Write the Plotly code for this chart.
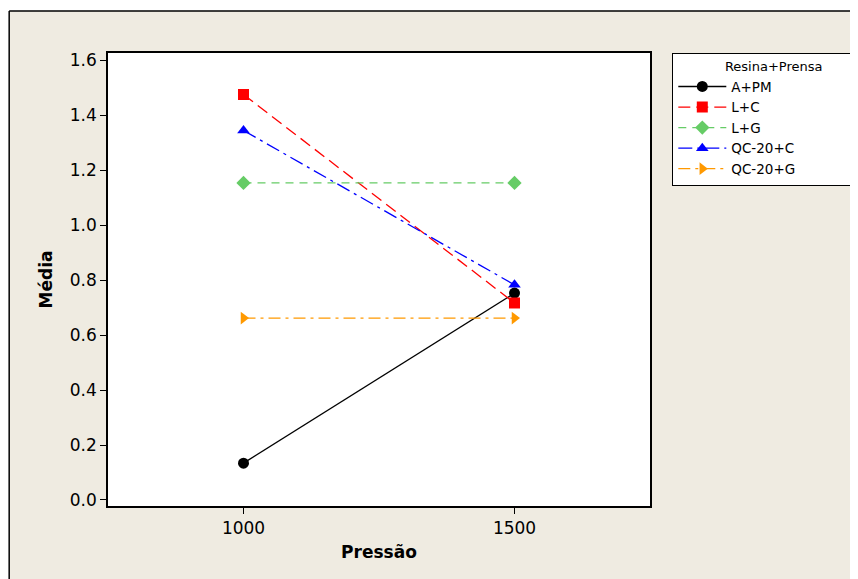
import plotly.graph_objects as go

pressao = [1000, 1500]
series_names = ["A+PM", "L+C", "L+G", "QC-20+C", "QC-20+G"]
a_pm = [0.134, 0.753]
l_c = [1.476, 0.717]
l_g = [1.154, 1.154]
qc20_c = [1.345, 0.783]
qc20_g = [0.662, 0.662]
y_ticks = [0.0, 0.2, 0.4, 0.6, 0.8, 1.0, 1.2, 1.4, 1.6]
x_ticks = [1000, 1500]

values = [a_pm, l_c, l_g, qc20_c, qc20_g]
colors = ["#000000", "#FF0000", "#66CC66", "#0000FF", "#FF9900"]
dashes = ["solid", "12px,6px", "8px,6px", "14px,5px,3px,5px", "12px,5px,3px,5px"]
symbols = ["circle", "square", "diamond", "triangle-up", "triangle-right"]

FONT = "DejaVu Sans"
fig = go.Figure()
for name, vals, c, d, s in zip(series_names, values, colors, dashes, symbols):
    fig.add_trace(go.Scatter(
        x=pressao, y=vals, name=name, mode="lines+markers",
        line=dict(color=c, width=1.3, dash=d),
        marker=dict(symbol=s, size=11, color=c),
    ))

OFF = 8  # browser body margin
W, H = 858, 579
L, R, T, B = 108 - OFF, 858 - 651 + OFF, 53 - OFF, 579 - 506 + OFF
pw, ph = W - L - R, H - T - B
def px(x):
    return (x - OFF - L) / pw
def py(y):
    return (H - B - (y - OFF)) / ph

shapes = [
    dict(type="rect", xref="paper", yref="paper", x0=px(9), x1=px(900), y0=py(620), y1=py(11),
         fillcolor="#EFEBE1", line=dict(width=0), layer="below"),
    dict(type="line", xref="paper", yref="paper", x0=px(9), x1=px(900), y0=py(11), y1=py(11),
         line=dict(color="black", width=1.5), layer="below"),
    dict(type="line", xref="paper", yref="paper", x0=px(9), x1=px(9), y0=py(11), y1=py(620),
         line=dict(color="black", width=1.5), layer="below"),
    dict(type="rect", xref="paper", yref="paper", x0=0, x1=1, y0=0, y1=1,
         fillcolor="white", line=dict(width=0), layer="below"),
]

NB = "&nbsp;"
fig.update_layout(
    width=W, height=H,
    margin=dict(l=L, r=R, t=T, b=B),
    paper_bgcolor="white", plot_bgcolor="white",
    font=dict(family=FONT, color="black"),
    shapes=shapes,
    showlegend=True,
    legend=dict(
        x=px(672), y=1.0, xanchor="left", yanchor="top",
        bgcolor="white", bordercolor="black", borderwidth=1.3,
        font=dict(family=FONT, size=13.5),
        title=dict(text=NB * 12 + "Resina+Prensa" + NB * 7, font=dict(family=FONT, size=13)),
        tracegroupgap=0,
        itemwidth=48,
    ),
    xaxis=dict(
        range=[750, 1750], tickvals=x_ticks, ticktext=[str(v) for v in x_ticks],
        showgrid=False, zeroline=False, showline=True, linecolor="black", linewidth=1.5, mirror=True,
        ticks="outside", ticklen=6, tickcolor="black",
        tickfont=dict(family=FONT, size=17),
        title=dict(text="<b>Pressão</b>", font=dict(family=FONT, size=17), standoff=9),
    ),
    yaxis=dict(
        range=[-0.022, 1.627], tickvals=y_ticks, ticktext=[f"{v:.1f}" for v in y_ticks],
        showgrid=False, zeroline=False, showline=True, linecolor="black", linewidth=1.5, mirror=True,
        ticks="outside", ticklen=6, tickcolor="black",
        tickfont=dict(family=FONT, size=17),
        title=dict(text="<b>Média</b>", font=dict(family=FONT, size=17), standoff=13),
    ),
)

fig.write_html("out.html")
